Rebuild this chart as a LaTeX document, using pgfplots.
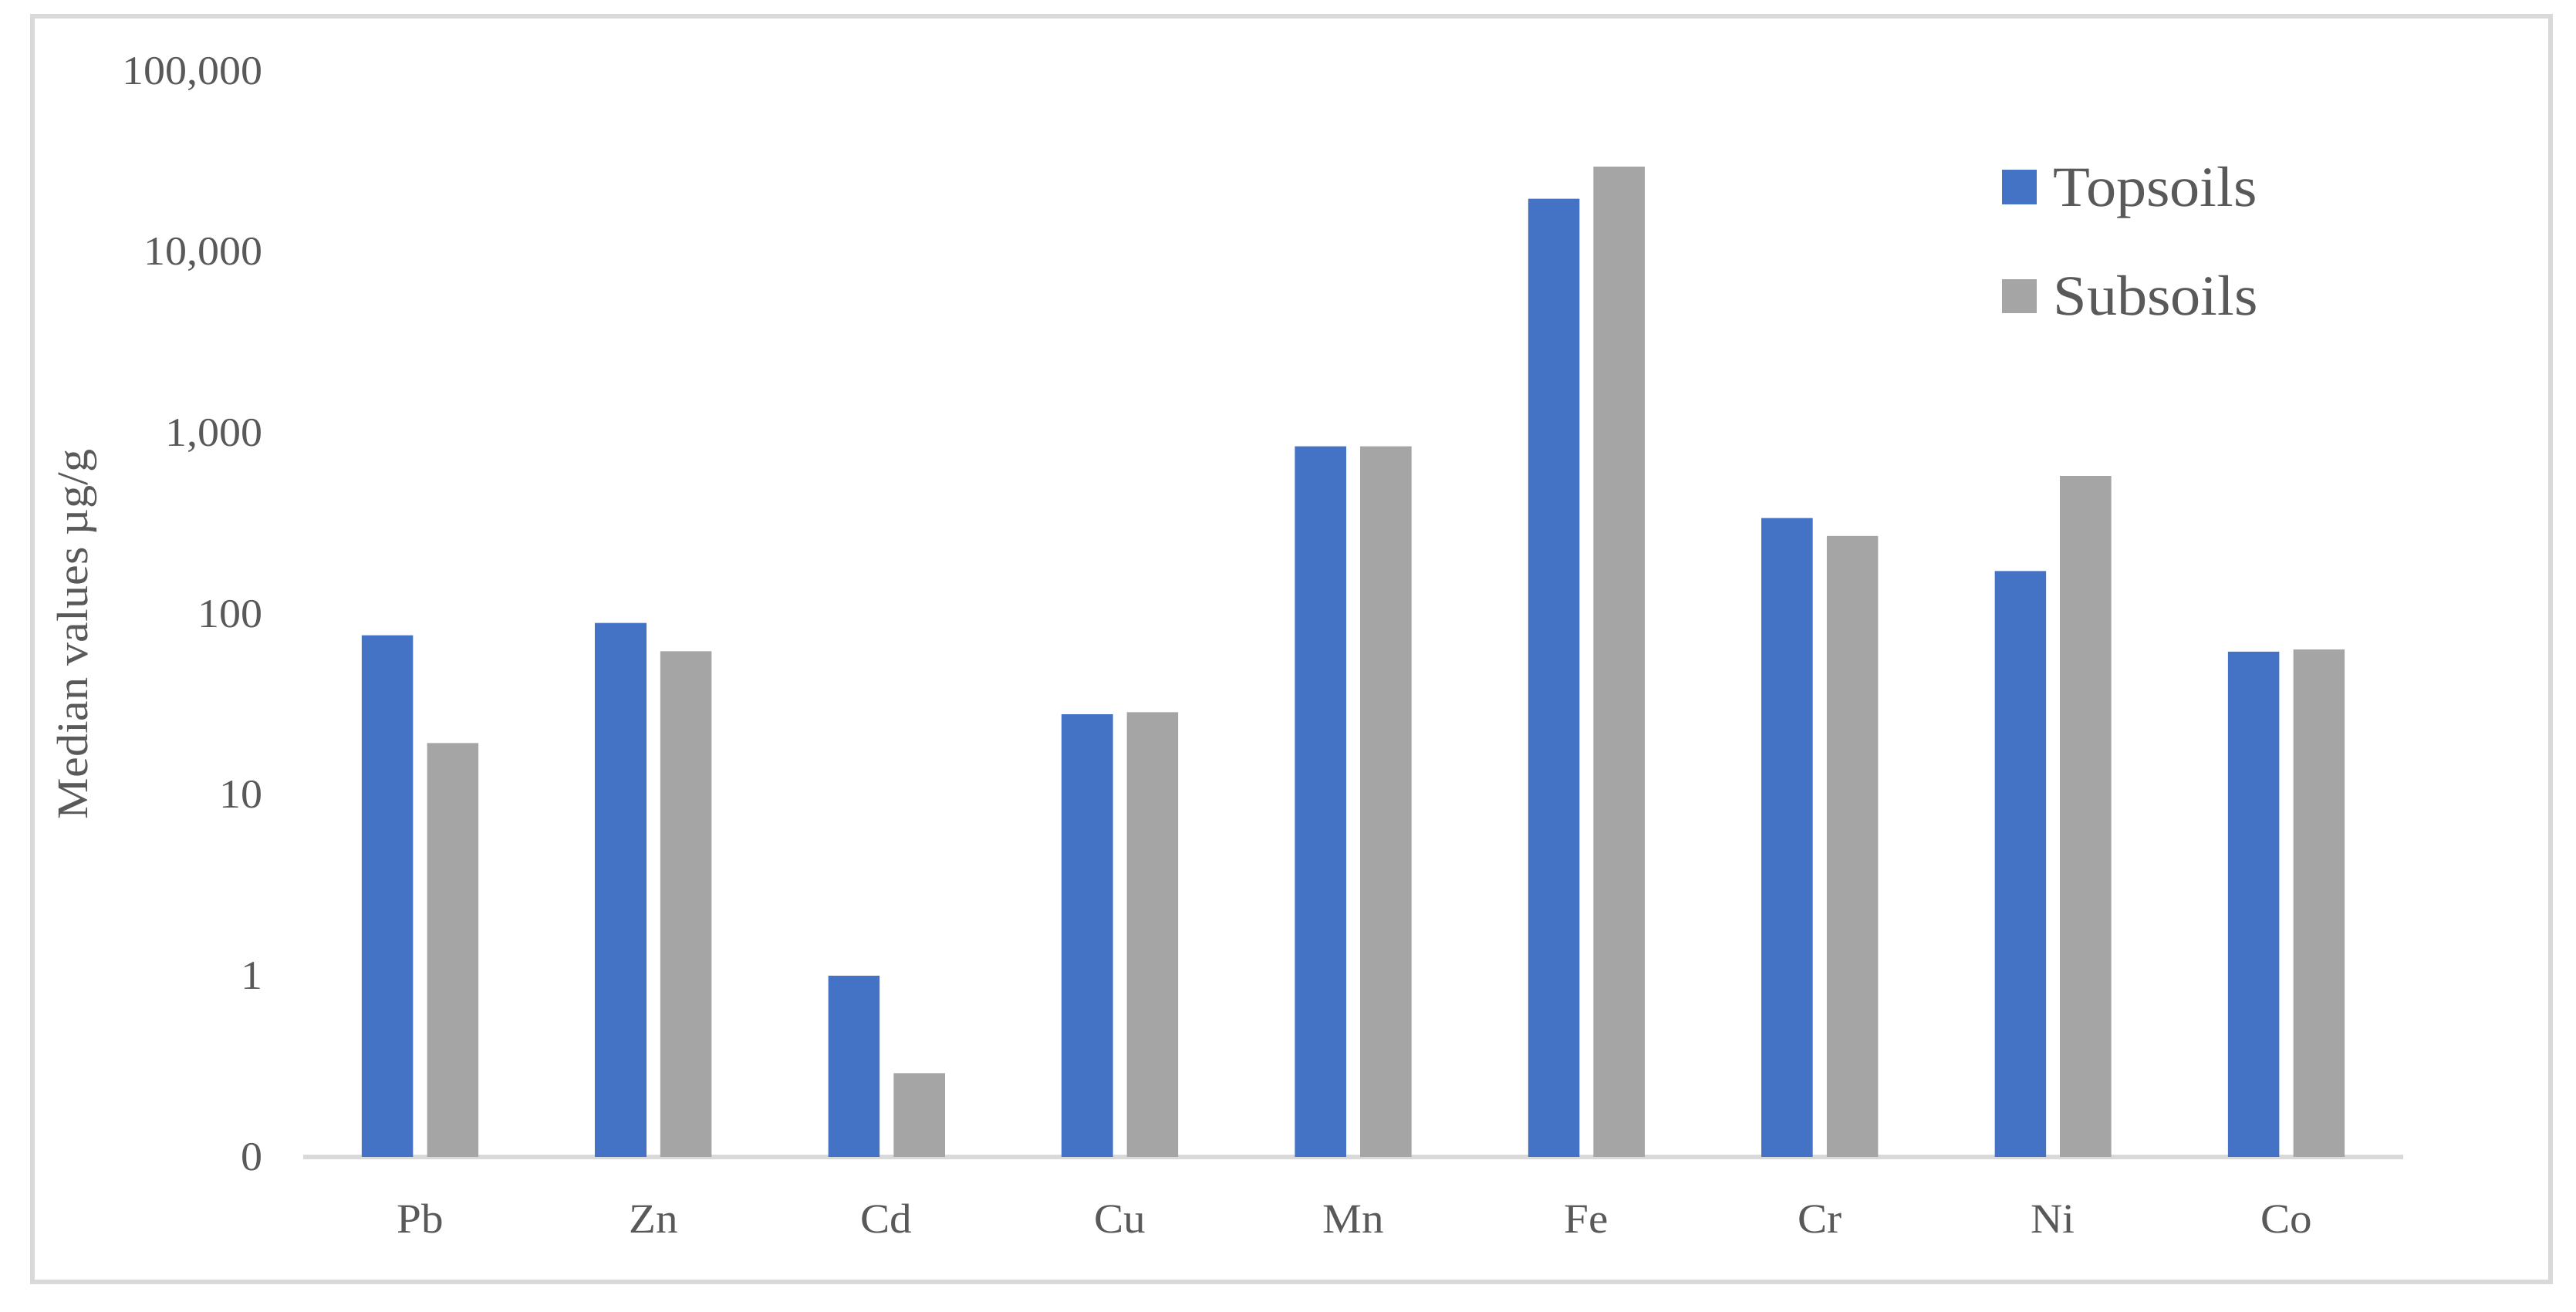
\documentclass[border=0pt]{standalone}
\usepackage{fontspec}
\setmainfont{Liberation Serif}[FakeStretch=1.06]
\usepackage{pgfplots}
\pgfplotsset{compat=1.18}

\definecolor{topblue}{HTML}{4472C4}
\definecolor{subgray}{HTML}{A5A5A5}
\definecolor{txtgray}{HTML}{595959}
\definecolor{linegray}{HTML}{D9D9D9}

\pgfplotsset{sqlegend/.style={legend image code/.code={\fill[##1, draw=none] (0pt,-3.15pt) rectangle (6.3pt,3.15pt);}}}

\begin{document}
\begin{tikzpicture}
\useasboundingbox (0,0) rectangle (470.4pt,239.5pt);
\draw[linegray, line width=0.85pt] (5.9pt,5.35pt) rectangle (465.7pt,236.6pt);
\begin{axis}[
  at={(55.4pt,28.2pt)}, anchor=south west,
  scale only axis,
  width=383.4pt, height=198.4pt,
  ymode=log, log origin y=infty,
  ymin=0.1, ymax=100000,
  xmin=-0.5, xmax=8.5,
  axis x line*=bottom, axis y line*=left,
  x axis line style={linegray, line width=0.85pt},
  y axis line style={draw=none},
  major tick length=0pt, minor tick length=0pt,
  tick style={draw=none},
  xtick={0,1,2,3,4,5,6,7,8},
  xticklabels={Pb,Zn,Cd,Cu,Mn,Fe,Cr,Ni,Co},
  ytick={0.1,1,10,100,1000,10000,100000},
  yticklabels={0,1,10,100,{1,000},{10,000},{100,000}},
  xticklabel style={anchor=base, inner sep=0pt, yshift=-13.9pt,
    font=\fontsize{7.6}{9}\selectfont, text=txtgray},
  yticklabel style={anchor=base east, inner sep=0pt, xshift=-7.2pt, yshift=-2.47pt,
    font=\fontsize{7.45}{9}\selectfont, text=txtgray},
  ylabel={Median values µg/g},
  ylabel style={at={(axis description cs:-0.1077,0.481)}, anchor=center,
    font=\fontsize{8}{10}\selectfont, text=txtgray},
  legend style={at={(0.809,0.910)}, anchor=north west, draw=none, fill=none,
    inner sep=0pt, outer sep=0pt, font=\fontsize{10.4}{12}\selectfont,
    text=txtgray, row sep=13pt, column sep=3.1pt,
    nodes={inner sep=0pt, text height=6.9pt, text depth=0pt},
    cells={anchor=west}},
]
\addplot[ybar, bar width=0.22, bar shift=-0.14, fill=topblue, draw=none, sqlegend]
  coordinates {(0,76) (1,89) (2,1.0) (3,27.8) (4,842) (5,19600) (6,338) (7,172) (8,61.7)};
\addlegendentry{Topsoils}
\addplot[ybar, bar width=0.22, bar shift=0.14, fill=subgray, draw=none, sqlegend]
  coordinates {(0,19.3) (1,62) (2,0.29) (3,28.6) (4,842) (5,29500) (6,269) (7,577) (8,63.4)};
\addlegendentry{Subsoils}
\end{axis}
\end{tikzpicture}
\end{document}
